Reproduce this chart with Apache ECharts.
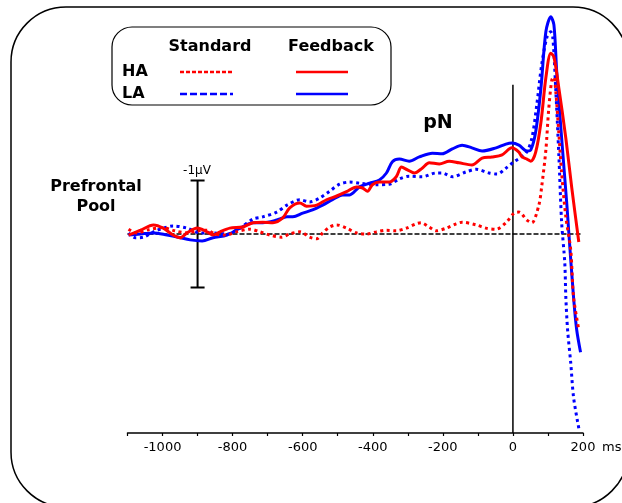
<!DOCTYPE html>
<html><head><meta charset="utf-8">
<script src="https://cdn.jsdelivr.net/npm/echarts@6/dist/echarts.min.js"></script>
<style>html,body{margin:0;padding:0;background:#fff}#c{width:622px;height:503px}</style>
</head><body><div id="c"></div><script>
// time (ms) and amplitude (µV, negative plotted upward)
const tickLabels = [-1000, -800, -600, -400, -200, 0, 200];
const haFeedback = [[-1097,0.02],[-1063,-0.07],[-1026,-0.17],[-998,-0.11],[-970,0.02],[-950,0.07],[-930,-0.02],[-901,-0.11],[-873,-0.04],[-856,0.02],[-836,-0.04],[-808,-0.11],[-771,-0.13],[-742,-0.21],[-714,-0.22],[-685,-0.21],[-657,-0.30],[-637,-0.49],[-608,-0.58],[-589,-0.52],[-560,-0.54],[-532,-0.64],[-503,-0.71],[-475,-0.79],[-446,-0.88],[-429,-0.86],[-415,-0.80],[-401,-0.92],[-381,-0.97],[-353,-0.97],[-333,-1.07],[-318,-1.25],[-301,-1.20],[-281,-1.14],[-259,-1.23],[-239,-1.33],[-210,-1.31],[-182,-1.36],[-154,-1.33],[-117,-1.29],[-88,-1.42],[-60,-1.44],[-31,-1.48],[-3,-1.61],[17,-1.53],[26,-1.44],[40,-1.40],[51,-1.36],[65,-1.53],[80,-2.09],[94,-2.92],[108,-3.38],[117,-3.31],[131,-2.73],[151,-1.79],[168,-0.86],[188,0.15]];
const laFeedback = [[-1097,0.02],[-1063,0.0],[-1026,-0.02],[-987,0.02],[-955,0.06],[-921,0.11],[-887,0.13],[-856,0.07],[-816,0.02],[-779,-0.11],[-742,-0.21],[-714,-0.21],[-674,-0.26],[-645,-0.32],[-628,-0.32],[-600,-0.39],[-572,-0.45],[-543,-0.54],[-515,-0.64],[-486,-0.73],[-466,-0.73],[-438,-0.88],[-409,-0.95],[-381,-1.01],[-361,-1.14],[-344,-1.35],[-324,-1.40],[-296,-1.36],[-267,-1.44],[-230,-1.51],[-202,-1.50],[-173,-1.59],[-145,-1.66],[-117,-1.61],[-88,-1.55],[-48,-1.61],[-20,-1.68],[-3,-1.70],[17,-1.66],[40,-1.55],[51,-1.57],[65,-1.91],[80,-2.73],[94,-3.78],[108,-4.06],[117,-3.91],[125,-3.03],[139,-1.79],[154,-0.54],[159,-0.07],[173,1.18],[182,1.79],[193,2.21]];
const laStandard = [[-1097,-0.02],[-1078,0.07],[-1055,0.06],[-1026,-0.04],[-998,-0.11],[-970,-0.15],[-930,-0.11],[-893,-0.02],[-856,-0.02],[-816,0.0],[-779,-0.11],[-742,-0.28],[-714,-0.32],[-674,-0.41],[-645,-0.54],[-608,-0.64],[-580,-0.60],[-552,-0.67],[-523,-0.80],[-495,-0.93],[-466,-0.97],[-438,-0.95],[-390,-0.92],[-353,-0.93],[-324,-1.03],[-296,-1.08],[-259,-1.07],[-219,-1.14],[-202,-1.14],[-173,-1.07],[-134,-1.16],[-105,-1.21],[-68,-1.14],[-45,-1.12],[-20,-1.23],[3,-1.35],[37,-1.51],[54,-1.79],[68,-2.41],[82,-3.16],[97,-3.68],[108,-3.78],[114,-3.66],[122,-2.73],[131,-1.48],[139,-0.22],[148,0.54],[151,1.18],[156,1.79],[165,2.41],[173,3.05],[188,3.63]];
const haStandard = [[-1097,-0.09],[-1075,-0.02],[-1040,-0.08],[-1000,-0.12],[-965,-0.06],[-930,-0.02],[-900,-0.06],[-873,-0.07],[-850,0.0],[-820,0.02],[-790,-0.04],[-750,-0.09],[-722,-0.04],[-694,0.02],[-660,0.06],[-637,0.0],[-608,-0.04],[-580,0.06],[-560,0.09],[-543,-0.02],[-523,-0.13],[-503,-0.17],[-475,-0.11],[-446,-0.02],[-418,0.0],[-390,-0.04],[-361,-0.07],[-333,-0.06],[-304,-0.11],[-276,-0.19],[-262,-0.21],[-239,-0.13],[-219,-0.06],[-190,-0.11],[-162,-0.19],[-145,-0.22],[-105,-0.17],[-77,-0.11],[-48,-0.09],[-20,-0.21],[3,-0.39],[17,-0.41],[40,-0.26],[54,-0.21],[74,-0.54],[82,-0.88],[94,-1.57],[102,-2.32],[111,-2.88],[117,-2.93],[122,-2.69],[131,-1.89],[139,-1.14],[151,-0.32],[165,0.30],[173,1.18],[188,1.79]];
const baseline = [[-1100,0],[195,0]];
const onsetLine = [[0,-2.79],[0,3.72]];
const scaleBar = [[-920,-1],[-880,-1],[-900,-1],[-900,1],[-880,1],[-920,1]];

const RED = '#ff0000', BLUE = '#0000ff';
const FONT = '"DejaVu Sans", Arial, sans-serif';
const chart = echarts.init(document.getElementById('c'), null, {renderer: 'canvas'});

function wave(data, color, dotted, z) {
  return {
    type: 'line', data: data, symbol: 'none', smooth: 0.3, z: z, silent: true, clip: false,
    lineStyle: {color: color, width: 3, type: dotted ? [3, 3.5] : 'solid', cap: 'butt'}
  };
}
function plain(data, width, dash, z) {
  return {type: 'line', data: data, symbol: 'none', z: z, silent: true, clip: false,
    lineStyle: {color: '#000', width: width, type: dash || 'solid'}};
}

const option = {
  animation: false,
  backgroundColor: '#fff',
  grid: {left: 127.5, right: 39, top: 9.3, bottom: 70, containLabel: false},
  xAxis: {
    type: 'value', min: -1100, max: 200, interval: 100,
    axisLine: {onZero: false, lineStyle: {color: '#000', width: 1.5}},
    axisTick: {show: true, length: 3, lineStyle: {color: '#000', width: 1.2}},
    splitLine: {show: false},
    axisLabel: {
      interval: 0, margin: 8, color: '#000', fontSize: 13, fontFamily: FONT,
      formatter: v => tickLabels.indexOf(v) >= 0 ? String(v) : ''
    }
  },
  yAxis: {type: 'value', inverse: true, min: -4.2, max: 3.72, show: false},
  series: [
    plain(baseline, 1.5, [5, 2], 2),
    plain(onsetLine, 1.5, null, 2),
    plain(scaleBar, 2, null, 2),
    wave(laStandard, BLUE, true, 3),
    wave(laFeedback, BLUE, false, 4),
    wave(haStandard, RED, true, 5),
    wave(haFeedback, RED, false, 6)
  ],
  graphic: [
    {type: 'rect', shape: {x: 11, y: 7, width: 617, height: 500, r: 55}, style: {fill: 'none', stroke: '#000', lineWidth: 1.5}, z: 1},
    {type: 'rect', shape: {x: 112, y: 27, width: 279, height: 78, r: 20}, style: {fill: 'none', stroke: '#000', lineWidth: 1.2}, z: 1},
    {type: 'text', style: {text: 'Standard', x: 210, y: 47, font: 'bold 16px ' + FONT, fill: '#000', textAlign: 'center', textVerticalAlign: 'middle'}},
    {type: 'text', style: {text: 'Feedback', x: 331, y: 47, font: 'bold 16px ' + FONT, fill: '#000', textAlign: 'center', textVerticalAlign: 'middle'}},
    {type: 'text', style: {text: 'HA', x: 122, y: 72, font: 'bold 16px ' + FONT, fill: '#000', textAlign: 'left', textVerticalAlign: 'middle'}},
    {type: 'text', style: {text: 'LA', x: 122, y: 94, font: 'bold 16px ' + FONT, fill: '#000', textAlign: 'left', textVerticalAlign: 'middle'}},
    {type: 'line', shape: {x1: 180, y1: 72, x2: 233, y2: 72}, style: {stroke: RED, lineWidth: 2.5, lineDash: [4, 2]}},
    {type: 'line', shape: {x1: 180, y1: 94, x2: 233, y2: 94}, style: {stroke: BLUE, lineWidth: 2.5, lineDash: [7, 3]}},
    {type: 'line', shape: {x1: 296, y1: 72, x2: 348, y2: 72}, style: {stroke: RED, lineWidth: 2.5}},
    {type: 'line', shape: {x1: 296, y1: 94, x2: 348, y2: 94}, style: {stroke: BLUE, lineWidth: 2.5}},
    {type: 'text', style: {text: 'pN', x: 438, y: 123, font: 'bold 19px ' + FONT, fill: '#000', textAlign: 'center', textVerticalAlign: 'middle'}},
    {type: 'text', style: {text: 'Prefrontal', x: 96, y: 187, font: 'bold 16px ' + FONT, fill: '#000', textAlign: 'center', textVerticalAlign: 'middle'}},
    {type: 'text', style: {text: 'Pool', x: 96, y: 207, font: 'bold 16px ' + FONT, fill: '#000', textAlign: 'center', textVerticalAlign: 'middle'}},
    {type: 'text', style: {text: '-1μV', x: 197, y: 171, font: '12px ' + FONT, fill: '#000', textAlign: 'center', textVerticalAlign: 'middle'}},
    {type: 'text', style: {text: 'ms', x: 602, y: 448, font: '13px ' + FONT, fill: '#000', textAlign: 'left', textVerticalAlign: 'middle'}}
  ]
};
chart.setOption(option);
</script></body></html>
